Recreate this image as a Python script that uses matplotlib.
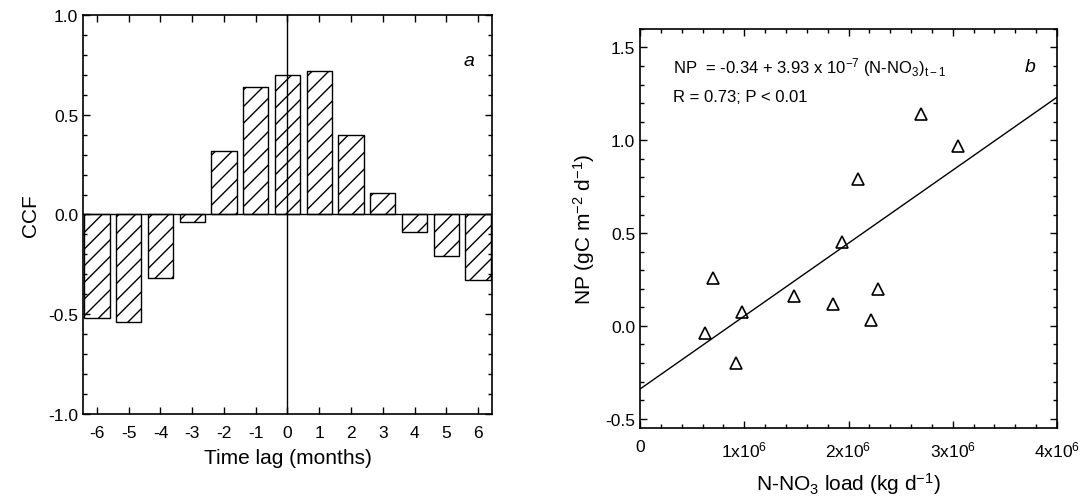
import matplotlib
matplotlib.use("Agg")
import matplotlib.pyplot as plt
import numpy as np
from matplotlib.ticker import MultipleLocator, FuncFormatter

# Panel a: cross-correlation by time lag
lags = [-6, -5, -4, -3, -2, -1, 0, 1, 2, 3, 4, 5, 6]
ccf = [-0.52, -0.54, -0.32, -0.04, 0.32, 0.64, 0.70, 0.72, 0.40, 0.11, -0.09, -0.21, -0.33]

# Panel b: NP against N-NO3 load
no3_load = [0.62e6, 0.70e6, 0.92e6, 0.98e6, 1.48e6, 1.85e6, 1.94e6,
            2.09e6, 2.22e6, 2.28e6, 2.70e6, 3.05e6]
np_values = [-0.04, 0.26, -0.20, 0.075, 0.16, 0.12, 0.45,
             0.79, 0.03, 0.20, 1.14, 0.97]
fit_intercept = -0.34
fit_slope = 3.93e-7

plt.rcParams["font.family"] = ["Liberation Sans", "DejaVu Sans"]
plt.rcParams["mathtext.fontset"] = "custom"
plt.rcParams["mathtext.rm"] = "Liberation Sans"
plt.rcParams["mathtext.it"] = "Liberation Sans:italic"
plt.rcParams["hatch.linewidth"] = 1.0
plt.rcParams["axes.unicode_minus"] = False

fig = plt.figure(figsize=(10.82, 5.02), dpi=100)
ax1 = fig.add_axes([0.0767, 0.1733, 0.378, 0.795])
ax2 = fig.add_axes([0.5915, 0.1454, 0.3854, 0.795])


def style_axes(ax):
    ax.tick_params(which="both", direction="in", top=True, right=True,
                   labelsize=12.5, width=1.0)
    ax.tick_params(which="major", length=5)
    ax.tick_params(which="minor", length=3)
    for sp in ax.spines.values():
        sp.set_linewidth(1.2)


# --- panel a ---
ax1.bar(lags, ccf, width=0.8, color="white", edgecolor="black",
        linewidth=1.0, hatch="//")
ax1.axhline(0, color="black", linewidth=1.0)
ax1.axvline(0, color="black", linewidth=1.0)
ax1.set_xlim(-6.44, 6.44)
ax1.set_ylim(-1.0, 1.0)
ax1.set_xticks(lags)
ax1.yaxis.set_major_locator(MultipleLocator(0.5))
ax1.yaxis.set_minor_locator(MultipleLocator(0.1))
ax1.yaxis.set_major_formatter(FuncFormatter(lambda v, p: f"{v:.1f}"))
style_axes(ax1)
ax1.tick_params(axis="x", pad=8)
ax1.set_xlabel("Time lag (months)", fontsize=15, labelpad=6)
ax1.set_ylabel("CCF", fontsize=15, labelpad=6)
ax1.text(0.945, 0.885, "a", transform=ax1.transAxes, fontsize=14,
         style="italic", ha="center", va="center")

# --- panel b ---
ax2.plot(no3_load, np_values, linestyle="none", marker="^", markersize=8,
         markerfacecolor="white", markeredgecolor="black", markeredgewidth=1.2)
fit_x = np.array([0, 4e6])
ax2.plot(fit_x, fit_intercept + fit_slope * fit_x, color="black", linewidth=1.0)
ax2.set_xlim(0, 4e6)
ax2.set_ylim(-0.55, 1.6)
ax2.xaxis.set_major_locator(MultipleLocator(1e6))
ax2.xaxis.set_minor_locator(MultipleLocator(0.2e6))
ax2.yaxis.set_major_locator(MultipleLocator(0.5))
ax2.yaxis.set_minor_locator(MultipleLocator(0.1))
ax2.yaxis.set_major_formatter(FuncFormatter(lambda v, p: f"{v:.1f}"))
ax2.xaxis.set_major_formatter(FuncFormatter(
    lambda v, p: "0" if v == 0 else f"{v / 1e6:.0f}x10$^6$"))
style_axes(ax2)
ax2.tick_params(axis="x", pad=8)
ax2.set_xlabel("N-NO$_3$ load (kg d$^{-1}$)", fontsize=15, labelpad=8)
ax2.set_ylabel("NP (gC m$^{-2}$ d$^{-1}$)", fontsize=15, labelpad=6)
ax2.text(0.08, 0.905, "NP  = -0.34 + 3.93 x 10$^{-7}$ (N-NO$_3$)$_{\\rm t-1}$",
         transform=ax2.transAxes, fontsize=12, ha="left", va="center")
ax2.text(0.08, 0.83, "R = 0.73; P < 0.01", transform=ax2.transAxes,
         fontsize=12, ha="left", va="center")
ax2.text(0.935, 0.905, "b", transform=ax2.transAxes, fontsize=14,
         style="italic", ha="center", va="center")

fig.savefig("out.png", dpi=100)
